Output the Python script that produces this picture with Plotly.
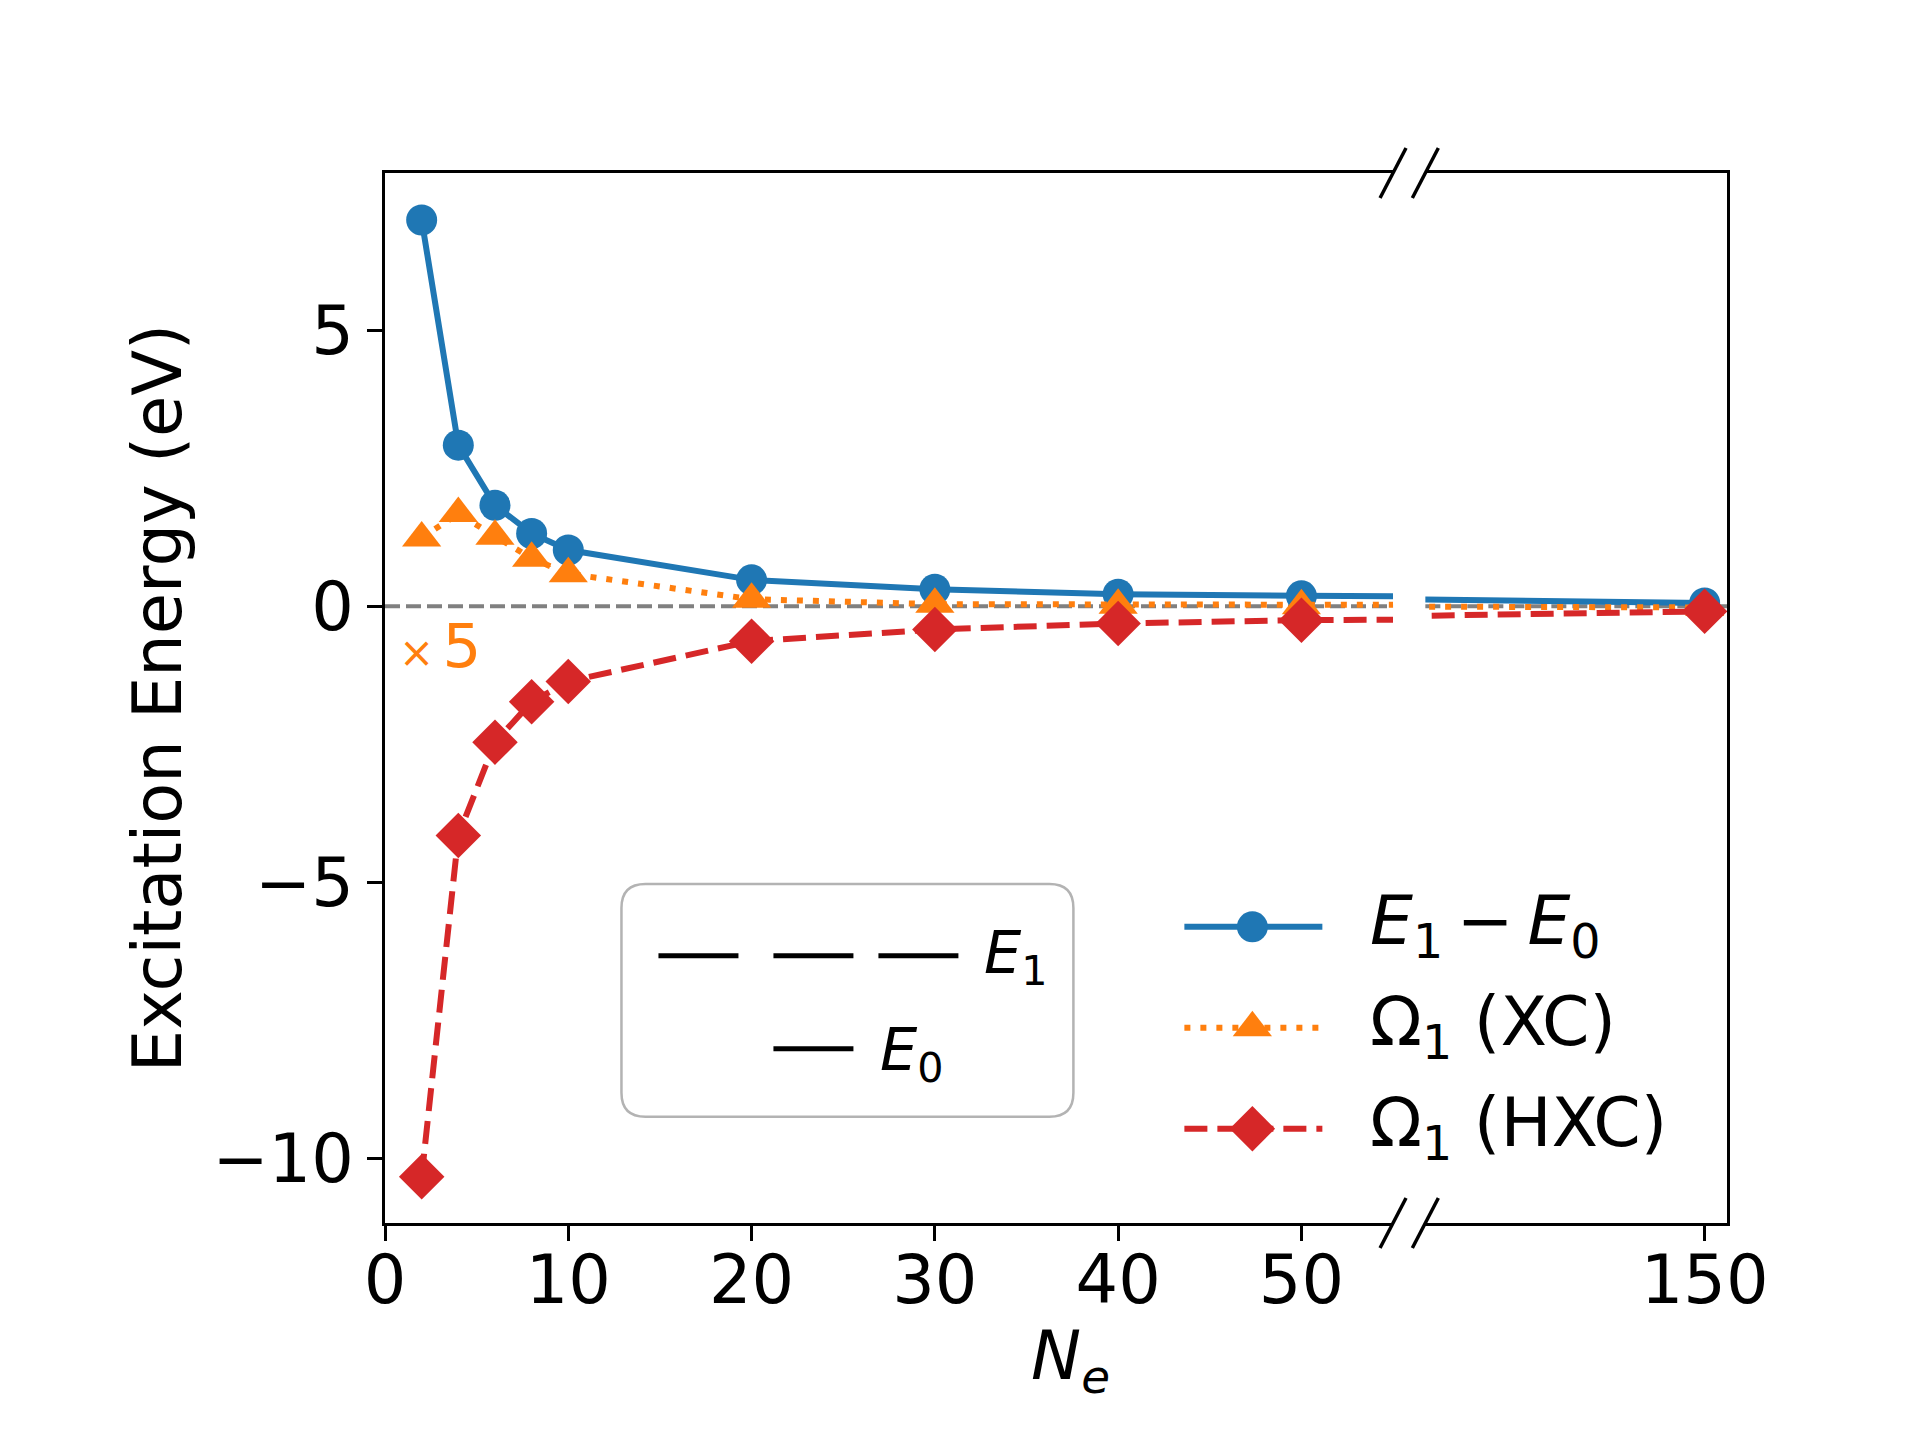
import plotly.graph_objects as go

# data
N_E = [2, 4, 6, 8, 10, 20, 30, 40, 50, 150]
GAP = [7.0, 2.92, 1.83, 1.32, 1.02, 0.48, 0.31, 0.22, 0.19, 0.06]
OMEGA_XC = [0.248, 0.336, 0.254, 0.174, 0.118, 0.026, 0.008, 0.004, 0.002, -0.004]
OMEGA_HXC = [-10.33, -4.15, -2.46, -1.73, -1.36, -0.63, -0.42, -0.31, -0.25, -0.09]
XC_SCALE = 5

LEFT_TICKS = [0, 10, 20, 30, 40, 50]
RIGHT_TICKS = [150]
Y_TICKS = [-10, -5, 0, 5]

BLUE, ORANGE, RED = "#1f77b4", "#ff7f0e", "#d62728"
FONT = "DejaVu Sans"

# plot area in pixels (page body adds an 8px offset)
L, R, T, B = 384.5, 1726.7, 172.7, 1223.3
OFF = 8
BREAK_L, BREAK_R = 1392.7, 1425.0


def paper_x(x):
    return (x - L) / (R - L)


def paper_y(y):
    return (B - y) / (B - T)


series = [
    dict(y=GAP, color=BLUE, dash="solid", symbol="circle", size=31),
    dict(y=[v * XC_SCALE for v in OMEGA_XC], color=ORANGE,
         dash="6px,10px", symbol="triangle-up", size=34),
    dict(y=OMEGA_HXC, color=RED, dash="23px,10px", symbol="diamond", size=35),
]

fig = go.Figure()
for xa, ya in (("x", "y"), ("x2", "y2")):
    for s in series:
        fig.add_trace(go.Scatter(
            x=N_E, y=s["y"], xaxis=xa, yaxis=ya, mode="lines+markers",
            line=dict(color=s["color"], width=6, dash=s["dash"]),
            marker=dict(color=s["color"], symbol=s["symbol"], size=s["size"], line=dict(width=0)),
            showlegend=False, cliponaxis=True,
        ))

# legend samples drawn on a hidden pixel-space axis
legend_rows = [
    (927, "<i>E</i><sub>1</sub>\u2009−\u2009<i>E</i><sub>0</sub>"),
    (1028, "Ω<sub>1</sub> (XC)"),
    (1129, "Ω<sub>1</sub> (HXC)"),
]
for s, (ry, label) in zip(series, legend_rows):
    fig.add_trace(go.Scatter(
        x=[1184, 1322], y=[ry, ry], xaxis="x3", yaxis="y3", mode="lines",
        line=dict(color=s["color"], width=6, dash=s["dash"]), showlegend=False,
    ))
    fig.add_trace(go.Scatter(
        x=[1252], y=[ry], xaxis="x3", yaxis="y3", mode="markers",
        marker=dict(color=s["color"], symbol=s["symbol"], size=s["size"], line=dict(width=0)),
        showlegend=False,
    ))
    fig.add_annotation(x=1368, y=ry - 2, xref="x3", yref="y3", text=label, showarrow=False,
                       xanchor="left", yanchor="middle", font=dict(family=FONT, size=68, color="black"))

shapes = []
# zero reference line in both panels
for xr, yr in (("x domain", "y"), ("x2 domain", "y2")):
    shapes.append(dict(type="line", xref=xr, yref=yr, x0=0, x1=1, y0=0, y1=0, layer="below",
                       line=dict(color="gray", width=4, dash="15px,6px")))

# broken-axis slashes
for cx in (BREAK_L, BREAK_R):
    for cy in (T, B):
        shapes.append(dict(type="line", xref="paper", yref="paper",
                           x0=paper_x(cx - 13), y0=paper_y(cy + 25),
                           x1=paper_x(cx + 13), y1=paper_y(cy - 25),
                           line=dict(color="black", width=3.5)))

# E1 / E0 level box
bx0, by0, bx1, by1, rr = 621, 884, 1073, 1117, 24
box_path = (f"M{bx0 + rr},{by0} H{bx1 - rr} Q{bx1},{by0} {bx1},{by0 + rr} V{by1 - rr} "
            f"Q{bx1},{by1} {bx1 - rr},{by1} H{bx0 + rr} Q{bx0},{by1} {bx0},{by1 - rr} "
            f"V{by0 + rr} Q{bx0},{by0} {bx0 + rr},{by0} Z")
shapes.append(dict(type="path", xref="x3", yref="y3", path=box_path,
                   fillcolor="rgba(255,255,255,0.8)", line=dict(color="#b3b3b3", width=2.5)))
for x0, x1, ly in ((658, 738, 956), (773, 853, 956), (878, 958, 956), (773, 853, 1049)):
    shapes.append(dict(type="line", xref="x3", yref="y3", x0=x0, x1=x1, y0=ly, y1=ly,
                       line=dict(color="black", width=5)))
fig.add_annotation(x=982, y=957, xref="x3", yref="y3", text="<i>E</i><sub>1</sub>", showarrow=False,
                   xanchor="left", yanchor="middle", font=dict(family=FONT, size=59, color="black"))
fig.add_annotation(x=878, y=1054, xref="x3", yref="y3", text="<i>E</i><sub>0</sub>", showarrow=False,
                   xanchor="left", yanchor="middle", font=dict(family=FONT, size=59, color="black"))

# x5 marker for the XC curve
fig.add_annotation(x=396, y=645, xref="x3", yref="y3",
                   text="<span style='font-size:42px'>×\u2009</span>5", showarrow=False,
                   xanchor="left", yanchor="middle", font=dict(family=FONT, size=61, color=ORANGE))

# x title
fig.add_annotation(x=paper_x(1070), y=paper_y(1361), xref="paper", yref="paper",
                   text="<i>N</i><sub><i>e</i></sub>", showarrow=False,
                   xanchor="center", yanchor="middle", font=dict(family=FONT, size=67, color="black"))

axis_style = dict(showline=True, linecolor="black", linewidth=2.5, showgrid=False, zeroline=False,
                  ticks="outside", ticklen=15, tickwidth=2.5, tickcolor="black",
                  tickfont=dict(family=FONT, size=67, color="black"))

fig.update_layout(
    width=1920, height=1440, autosize=False,
    margin=dict(l=L - OFF, r=1920 - R + OFF, t=T - OFF, b=1440 - B + OFF, pad=0),
    paper_bgcolor="white", plot_bgcolor="rgba(0,0,0,0)",
    showlegend=False, shapes=shapes,
    xaxis=dict(domain=[0, paper_x(BREAK_L)], range=[0, 55], tickvals=LEFT_TICKS,
               anchor="y", mirror=True, ticklabelstandoff=-18, **axis_style),
    xaxis2=dict(domain=[paper_x(BREAK_R), 1], range=[100, 154], tickvals=RIGHT_TICKS,
                anchor="y2", mirror=True, ticklabelstandoff=-18, **axis_style),
    yaxis=dict(domain=[0, 1], range=[-11.17, 7.85], tickvals=Y_TICKS, anchor="x",
               title=dict(text="Excitation Energy (eV)", standoff=9,
                          font=dict(family=FONT, size=67, color="black")),
               **axis_style),
    yaxis2=dict(domain=[0, 1], matches="y", anchor="x2", side="right", showline=True,
                linecolor="black", linewidth=2.5, showgrid=False, zeroline=False,
                ticks="", showticklabels=False),
    xaxis3=dict(domain=[0, 1], range=[L, R], anchor="y3", visible=False, fixedrange=True),
    yaxis3=dict(domain=[0, 1], range=[B, T], anchor="x3", visible=False, fixedrange=True),
)

fig.write_html("out.html")
